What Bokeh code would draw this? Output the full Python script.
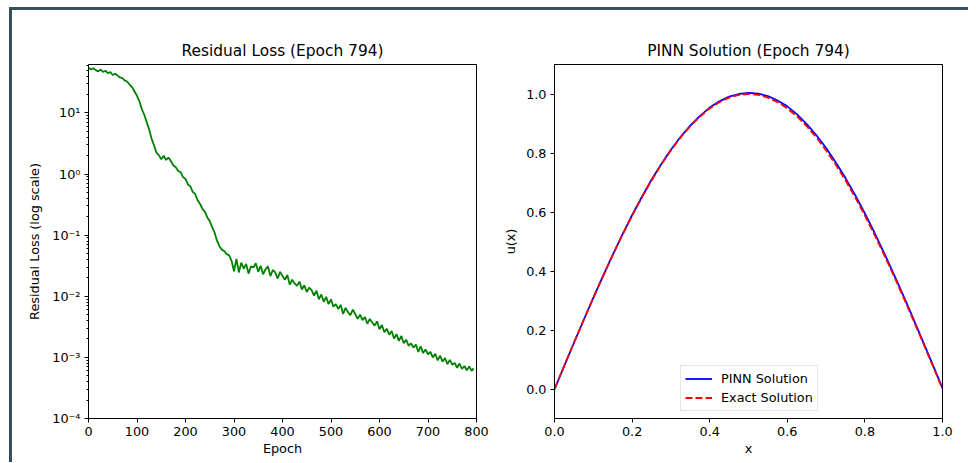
from bokeh.plotting import figure
from bokeh.layouts import row
from bokeh.models import (LogTicker, FixedTicker, CustomJSTickFormatter, Legend, LegendItem,
                          PrintfTickFormatter)
from bokeh.embed import file_html
from bokeh.resources import INLINE

# ---------------- data ----------------
epochs = [5 * i for i in range(159)] + [794]
# log10(residual loss)
loss_log10 = [
    1.74, 1.71, 1.73, 1.70, 1.68, 1.71, 1.67, 1.69, 1.65, 1.67,
    1.62, 1.64, 1.61, 1.58, 1.57, 1.53, 1.51, 1.46, 1.42, 1.35,
    1.28, 1.19, 1.06, 0.97, 0.85, 0.73, 0.58, 0.47, 0.35, 0.31,
    0.24, 0.30, 0.23, 0.27, 0.21, 0.14, 0.11, 0.05, 0.03, -0.05,
    -0.08, -0.17, -0.20, -0.29, -0.33, -0.43, -0.49, -0.57, -0.62, -0.71,
    -0.77, -0.87, -0.96, -1.09, -1.18, -1.24, -1.26, -1.31, -1.33, -1.42,
    -1.59, -1.39, -1.61, -1.45, -1.55, -1.47, -1.63, -1.51, -1.53, -1.46,
    -1.60, -1.50, -1.64, -1.56, -1.51, -1.67, -1.57, -1.61, -1.71, -1.60,
    -1.67, -1.73, -1.65, -1.81, -1.73, -1.79, -1.83, -1.76, -1.89, -1.82,
    -1.93, -1.86, -1.90, -1.99, -1.91, -2.05, -1.97, -2.09, -2.01, -2.13,
    -2.05, -2.17, -2.13, -2.21, -2.14, -2.29, -2.19, -2.26, -2.31, -2.22,
    -2.29, -2.37, -2.30, -2.39, -2.34, -2.45, -2.37, -2.43, -2.48, -2.41,
    -2.54, -2.47, -2.59, -2.53, -2.63, -2.57, -2.69, -2.62, -2.73, -2.65,
    -2.77, -2.71, -2.81, -2.77, -2.84, -2.79, -2.91, -2.82, -2.93, -2.87,
    -2.95, -2.91, -3.00, -2.94, -3.05, -2.97, -3.07, -3.01, -3.11, -3.04,
    -3.12, -3.09, -3.17, -3.10, -3.19, -3.14, -3.21, -3.15, -3.22, -3.18,
]
loss = [10 ** v for v in loss_log10]

x_vals = [i * 0.025 for i in range(41)]
exact_u = [0.0, 0.0785, 0.1564, 0.2334, 0.3090, 0.3827, 0.4540, 0.5225, 0.5878, 0.6494,
           0.7071, 0.7604, 0.8090, 0.8526, 0.8910, 0.9239, 0.9511, 0.9724, 0.9877, 0.9969,
           1.0, 0.9969, 0.9877, 0.9724, 0.9511, 0.9239, 0.8910, 0.8526, 0.8090, 0.7604,
           0.7071, 0.6494, 0.5878, 0.5225, 0.4540, 0.3827, 0.3090, 0.2334, 0.1564, 0.0785, 0.0]
pinn_u = [-0.001, 0.078, 0.156, 0.233, 0.309, 0.383, 0.455, 0.523, 0.589, 0.651,
          0.709, 0.762, 0.811, 0.855, 0.893, 0.926, 0.954, 0.975, 0.991, 1.000,
          1.004, 1.001, 0.993, 0.978, 0.958, 0.931, 0.898, 0.860, 0.817, 0.768,
          0.715, 0.657, 0.595, 0.529, 0.460, 0.388, 0.314, 0.238, 0.160, 0.082, 0.003]

title_loss = "Residual Loss (Epoch 794)"
title_sol = "PINN Solution (Epoch 794)"
loss_xticks = [0, 100, 200, 300, 400, 500, 600, 700, 800]
sol_ticks = [0.0, 0.2, 0.4, 0.6, 0.8, 1.0]

FONT = "DejaVu Sans"
TICK_PX = "12.8px"
TITLE_PX = "15.4px"


def style(p):
    p.title.text_font = FONT
    p.title.text_font_size = TITLE_PX
    p.title.text_font_style = "normal"
    p.title.align = "center"
    p.title.text_color = "black"
    p.title.standoff = 9
    p.outline_line_color = "black"
    p.outline_line_alpha = 1.0
    p.outline_line_width = 1
    p.xgrid.visible = False
    p.ygrid.visible = False
    for ax in p.xaxis + p.yaxis:
        ax.axis_line_color = "black"
        ax.major_tick_line_color = "black"
        ax.major_tick_out = 4
        ax.major_tick_in = 0
        ax.minor_tick_out = 2
        ax.minor_tick_in = 0
        ax.major_label_text_font = FONT
        ax.major_label_text_font_size = TICK_PX
        ax.major_label_text_color = "black"
        ax.major_label_standoff = 4
        ax.axis_label_text_font = FONT
        ax.axis_label_text_font_size = TICK_PX
        ax.axis_label_text_font_style = "normal"
        ax.axis_label_text_color = "black"
    for ax in p.xaxis:
        ax.axis_label_standoff = 2


# ---------------- left: loss ----------------
p1 = figure(width=484, height=452, x_range=(0, 800), y_range=(1e-4, 62),
            y_axis_type="log", output_backend="svg", toolbar_location=None,
            min_border_left=76, min_border_right=20, min_border_top=54, min_border_bottom=44,
            title=title_loss)
p1.line(epochs, loss, line_color="green", line_width=1.8)
p1.xaxis.axis_label = "Epoch"
p1.yaxis.axis_label = "Residual Loss (log scale)"
p1.xaxis.ticker = FixedTicker(ticks=loss_xticks)
p1.yaxis.ticker = LogTicker(num_minor_ticks=10)
p1.yaxis.formatter = CustomJSTickFormatter(code="""
const sup = {'-':'\u207b','0':'\u2070','1':'\u00b9','2':'\u00b2','3':'\u00b3','4':'\u2074',
             '5':'\u2075','6':'\u2076','7':'\u2077','8':'\u2078','9':'\u2079'};
const e = Math.round(Math.log10(tick));
return '10' + String(e).split('').map(c => sup[c]).join('');
""")
style(p1)
p1.xaxis.minor_tick_line_color = None
p1.yaxis.minor_tick_line_color = "black"
p1.yaxis.axis_label_standoff = 7

# ---------------- right: solution ----------------
p2 = figure(width=472, height=452, x_range=(0, 1), y_range=(-0.1, 1.1),
            output_backend="svg", toolbar_location=None,
            min_border_left=58, min_border_right=26, min_border_top=54, min_border_bottom=44,
            title=title_sol)
r_pinn = p2.line(x_vals, pinn_u, line_color="blue", line_width=1.8)
r_exact = p2.line(x_vals, exact_u, line_color="red", line_width=1.8, line_dash="7 3")
p2.xaxis.axis_label = "x"
p2.yaxis.axis_label = "u(x)"
p2.xaxis.ticker = FixedTicker(ticks=sol_ticks)
p2.yaxis.ticker = FixedTicker(ticks=sol_ticks)
p2.xaxis.formatter = PrintfTickFormatter(format="%.1f")
p2.yaxis.formatter = PrintfTickFormatter(format="%.1f")
style(p2)
p2.xaxis.minor_tick_line_color = None
p2.yaxis.minor_tick_line_color = None
p2.yaxis.axis_label_standoff = 5

legend = Legend(items=[LegendItem(label="PINN Solution", renderers=[r_pinn]),
                       LegendItem(label="Exact Solution", renderers=[r_exact])],
                location=(126, 7))
legend.label_text_font = FONT
legend.label_text_font_size = TICK_PX
legend.label_text_color = "black"
legend.border_line_color = "#cccccc"
legend.border_line_width = 1
legend.background_fill_alpha = 0.8
legend.padding = 4
legend.spacing = 2
legend.margin = 0
legend.label_height = 17
legend.glyph_height = 17
legend.glyph_width = 27
legend.label_standoff = 9
p2.add_layout(legend, "center")

layout = row(p1, p2, width=959, height=455, margin=(7, 0, 0, 9),
             styles={"border-top": "3px solid #34505f",
                     "border-left": "3px solid #34505f",
                     "box-sizing": "border-box"})

open("out.html", "w").write(file_html(layout, INLINE))
